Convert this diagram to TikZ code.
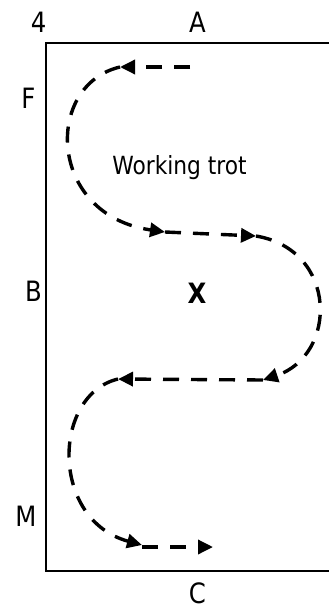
\documentclass[tikz,border=0pt]{standalone}
\usepackage{fontspec}
\setmainfont{DejaVu Sans}[FakeStretch=0.87]
\usetikzlibrary{arrows.meta}
\tikzset{
  lbl/.style={anchor=base, inner sep=0pt, font=\fontsize{28}{32}\selectfont},
  route/.style={line width=3.4pt, dash pattern=on 16pt off 12pt, -{Triangle[length=15pt,width=14pt]}},
  arena/.style={line width=1.5pt}
}
\begin{document}
\begin{tikzpicture}[x=1pt,y=-1pt]
\useasboundingbox (0,0) rectangle (329,610);
% arena
\coordinate (tr) at (329,43);
\coordinate (tl) at (46,43);
\coordinate (bl) at (46,571);
\coordinate (br) at (329,571);
\draw[arena] (tr) -- (tl) -- (bl) -- (br);
% labels
\node[lbl] (n4) at (38.5,33) {4};
\node[lbl] (nA) at (197.5,33) {A};
\node[lbl] (nF) at (28.5,108) {F};
\node[lbl] (nB) at (33.5,301) {B};
\node[lbl] (nM) at (26,526) {M};
\node[lbl] (nC) at (197.5,603) {C};
\node[lbl, font=\fontsize{28}{32}\selectfont\bfseries] (nX) at (197,303) {X};
\node[lbl, font=\fontsize{25}{29}\selectfont] (wt) at (179.5,174) {Working trot};
% route points
\coordinate (p0) at (190,67);
\coordinate (p1) at (120,67);
\coordinate (p2) at (165,232);
\coordinate (p3) at (256,236);
\coordinate (p4) at (263,380);
\coordinate (p5) at (118,379);
\coordinate (p6) at (142,545);
\coordinate (p7) at (213,547);
\coordinate (p6b) at (142,547);
\draw[route] (p0) -- (p1);
\draw[route] (p1) .. controls (44,85) and (47,215) .. (p2);
\draw[route] (p2) -- (p3);
\draw[route] (p3) .. controls (338,250) and (338,355) .. (p4);
\draw[route] (p4) -- (p5);
\draw[route] (p5) .. controls (52,395) and (50,520) .. (p6);
\draw[route] (p6b) -- (p7);
\end{tikzpicture}
\end{document}
